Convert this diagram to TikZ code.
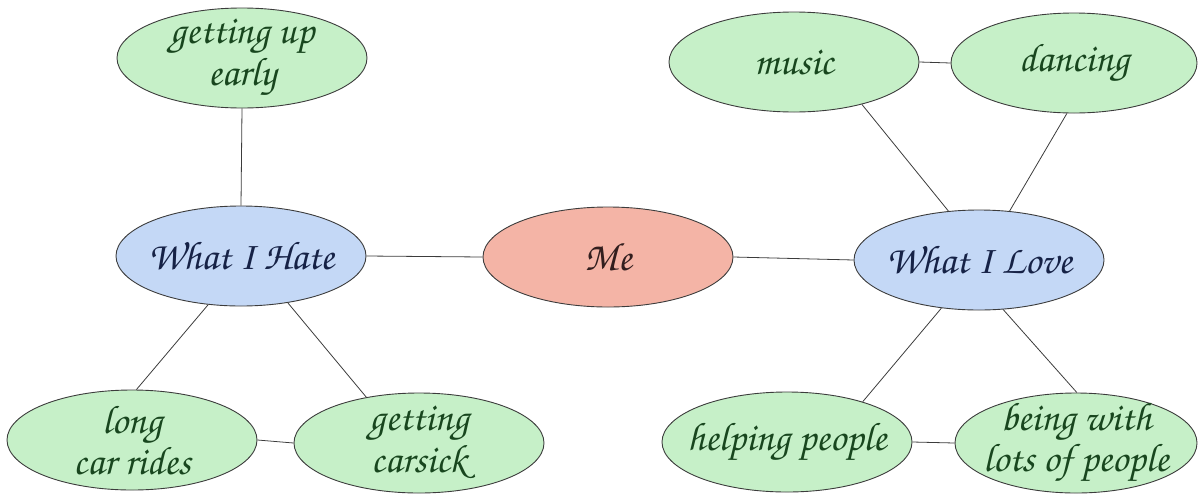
\documentclass[tikz,border=0pt]{standalone}
\usepackage[T1]{fontenc}
\usetikzlibrary{shapes.geometric}

\definecolor{leafgreen}{RGB}{198,240,200}
\definecolor{hubblue}{RGB}{196,216,246}
\definecolor{coresalmon}{RGB}{244,180,166}
\definecolor{leafink}{RGB}{24,70,30}
\definecolor{hubink}{RGB}{22,34,70}
\definecolor{coreink}{RGB}{50,30,30}
\definecolor{edgegray}{RGB}{60,60,60}

\newcommand\handfont{\fontencoding{T1}\fontfamily{pzc}\fontseries{mb}\fontshape{it}\fontsize{40}{30}\selectfont}

% the ellipse keeps a fixed size; its words are set in a label at its centre
\tikzset{
  bubble/.style={ellipse, draw=edgegray, line width=0.9pt, minimum width=250pt,
    minimum height=100pt, inner sep=0pt},
  words/.style={font=\handfont, align=center, inner sep=0pt},
  leaf/.style={bubble, fill=leafgreen, label={[words, text=leafink]center:#1}},
  hub/.style={bubble, fill=hubblue, label={[words, text=hubink]center:#1}},
  core/.style={bubble, fill=coresalmon, label={[words, text=coreink]center:#1}},
  link/.style={draw=edgegray, line width=0.8pt}
}

\begin{document}
\begin{tikzpicture}[x=1pt, y=-1pt]
\useasboundingbox (0,0) rectangle (1198,493);

% central node and the two hubs
\node[core={Me}]          (me)   at (608,257) {};
\node[hub={What I Hate}]  (hate) at (241,256) {};
\node[hub={What I Love}]  (love) at (979,260) {};

% things on the "hate" side
\node[leaf={getting up\\early}] (early)   at (242,58)  {};
\node[leaf={long\\car rides}]   (rides)   at (132,440) {};
\node[leaf={getting\\carsick}]  (carsick) at (419,443) {};

% things on the "love" side
\node[leaf={music}]                            (music)   at (794,62)  {};
\node[leaf={dancing}, minimum width=246pt]     (dancing) at (1074,63) {};
\node[leaf={helping people}]                   (helping) at (787,442) {};
\node[leaf={being with\\lots of people}, minimum width=242pt] (people) at (1076,443) {};

% connectors
\draw[link] (early.south) -- (hate.north);
\draw[link] (hate.east) -- (me.west);
\draw[link] (me.east) -- (love.west);
\draw[link] (hate.-124) -- (rides.85);
\draw[link] (hate.-45) -- (carsick.139);
\draw[link] (rides.east) -- (carsick.west);
\draw[link] (music.east) -- (dancing.west);
\draw[link] (music.-32) -- (love.122);
\draw[link] (dancing.-98) -- (love.58);
\draw[link] (love.-128) -- (helping.28);
\draw[link] (love.-64) -- (people.89);
\draw[link] (helping.east) -- (people.west);
\end{tikzpicture}
\end{document}
